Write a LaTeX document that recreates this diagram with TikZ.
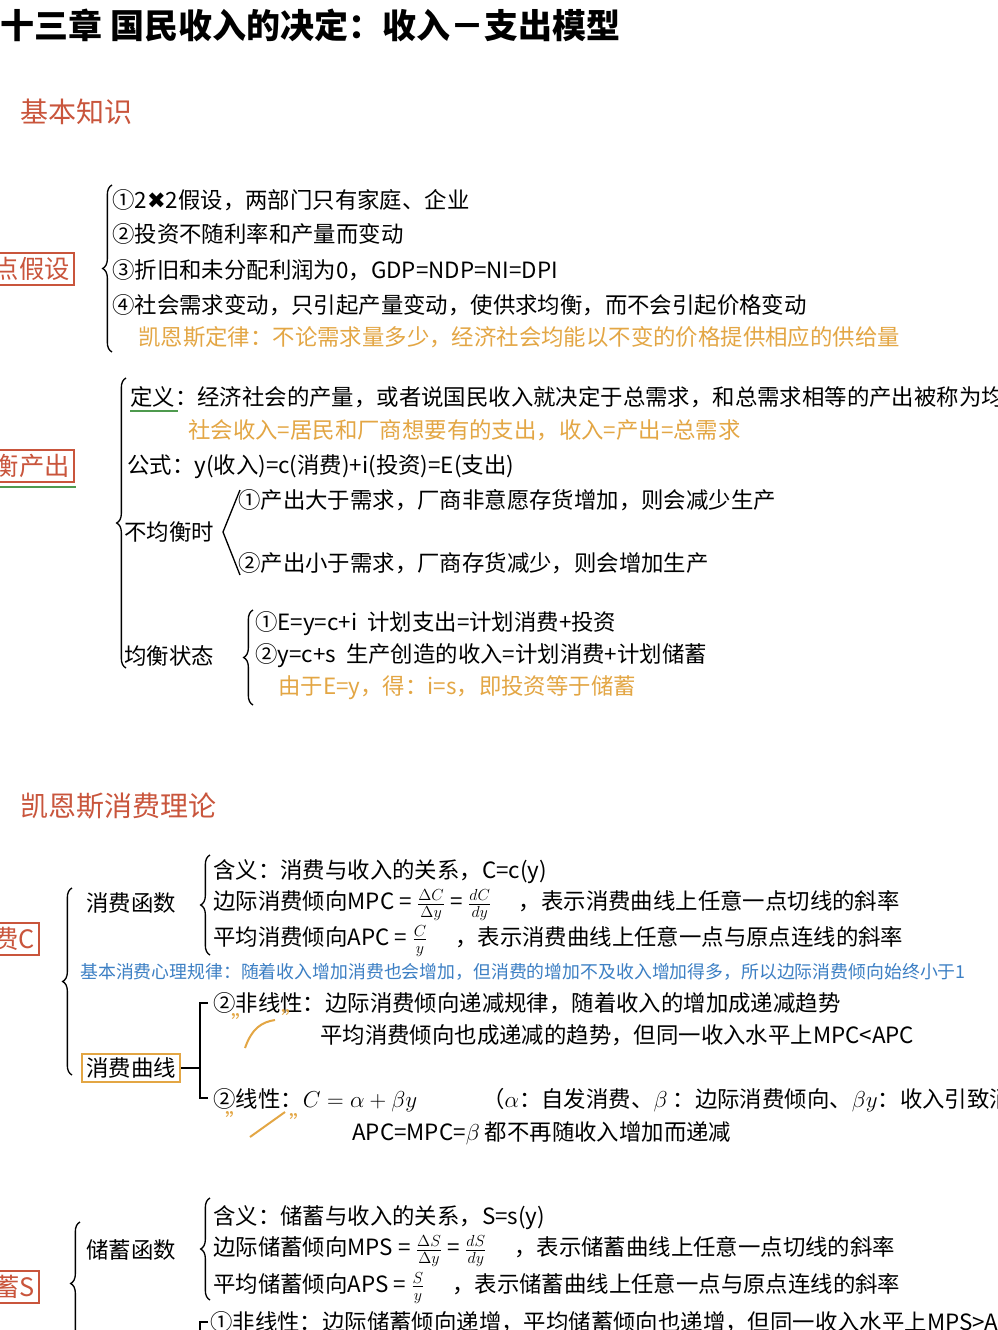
\documentclass[tikz,border=0pt]{standalone}
\usepackage{fontspec}
\setmainfont{Noto Sans CJK SC}
\newfontfamily\djv{DejaVu Sans}
\usetikzlibrary{decorations.pathreplacing}
\definecolor{hred}{HTML}{C9553C}
\definecolor{hyel}{HTML}{E3A644}
\definecolor{hblue}{HTML}{3C7FC4}
\definecolor{hgreen}{HTML}{4E9A4E}
\tikzset{
 t/.style={anchor=west,inner sep=0pt,font=\fontsize{16.8}{19}\selectfont},
 ty/.style={t,text=hyel},
 sec/.style={anchor=west,inner sep=0pt,text=hred,font=\fontsize{21}{23}\selectfont},
 rbox/.style={draw=hred,line width=1.6pt,text=hred,inner sep=3pt,font=\fontsize{19}{21}\selectfont},
 br/.style={decorate,decoration={brace,amplitude=7pt},line width=1pt},
 ink/.style={line width=1pt},
 qt/.style={text=hyel,inner sep=0pt,font=\fontsize{16}{18}\selectfont},
}
\begin{document}
\begin{tikzpicture}[x=0.75pt,y=-0.75pt]
\useasboundingbox (0,0) rectangle (997,1330);
\fill[white] (0,0) rectangle (997,1330);
\clip (0,0) rectangle (997,1330);
\node[anchor=west,inner sep=0pt,font=\fontsize{25.5}{28}\selectfont\bfseries] (title) at (0,25) {十三章 国民收入的决定：收入－支出模型};
% section 1
\node[sec] (s1) at (20,112) {基本知识};
\node[rbox,anchor=east] (b1) at (75,269) {点假设};
\draw[br] (112,352) -- (112,185);
\node[t] (a1) at (112,200) {①2{\djv ✖}2假设，两部门只有家庭、企业};
\node[t] (a2) at (112,234) {②投资不随利率和产量而变动};
\node[t] (a3) at (112,270) {③折旧和未分配利润为0，GDP=NDP=NI=DPI};
\node[t] (a4) at (112,305) {④社会需求变动，只引起产量变动，使供求均衡，而不会引起价格变动};
\node[ty] (a5) at (138,337) {凯恩斯定律：不论需求量多少，经济社会均能以不变的价格提供相应的供给量};
% equilibrium
\node[rbox,anchor=east] (b2) at (75,466) {衡产出};
\draw[hgreen,line width=2pt] (0,487) -- (76,487);
\draw[br] (126,668) -- (126,378);
\node[t] (d1) at (130,397) {定义：经济社会的产量，或者说国民收入就决定于总需求，和总需求相等的产出被称为均衡产出};
\draw[hgreen,line width=1.3pt] (130,411) -- (178,411);
\node[ty] (d2) at (188,430) {社会收入=居民和厂商想要有的支出，收入=产出=总需求};
\node[t] (d3) at (127,467) {公式：y(收入)=c(消费)+i(投资)=E(支出)};
\node[t] (d4) at (124,532) {不均衡时};
\draw[ink] (240,490) -- (223,532) -- (240,575);
\node[t] (d5) at (238,500) {①产出大于需求，厂商非意愿存货增加，则会减少生产};
\node[t] (d6) at (238,563) {②产出小于需求，厂商存货减少，则会增加生产};
\node[t] (d7) at (124,656) {均衡状态};
\draw[br] (253,705) -- (253,610);
\node[t] (e1) at (255,624) {①E=y=c+i\ \ 计划支出=计划消费+投资};
\node[t] (e2) at (255,656) {②y=c+s\ \ 生产创造的收入=计划消费+计划储蓄};
\node[ty] (e3) at (278,688) {由于E=y，得：i=s，即投资等于储蓄};
% section 2
\node[sec] (s2) at (20,806) {凯恩斯消费理论};
\node[rbox,anchor=east] (b3) at (40,939) {费C};
\draw[br] (72,1075) -- (72,888);
\node[t] (c1) at (86,903) {消费函数};
\draw[br] (210,955) -- (210,855);
\node[t] (c2) at (213,872) {含义：消费与收入的关系，C=c(y)};
\node[t] (c3) at (213,905) {边际消费倾向MPC = $\frac{\Delta C}{\Delta y}$ = $\frac{dC}{dy}$\quad\ ，表示消费曲线上任意一点切线的斜率};
\node[t] (c4) at (213,941) {平均消费倾向APC = $\frac{C}{y}$\quad\ ，表示消费曲线上任意一点与原点连线的斜率};
\node[anchor=west,inner sep=0pt,text=hblue,font=\fontsize{13.4}{15}\selectfont] (c5) at (80,972) {基本消费心理规律：随着收入增加消费也会增加，但消费的增加不及收入增加得多，所以边际消费倾向始终小于1};
\node[draw=hyel,line width=1.6pt,inner sep=3pt,font=\fontsize{16.8}{19}\selectfont] (c6) at (131,1068) {消费曲线};
\draw[ink] (c6.east) -- (200,1068);
\draw[ink] (208,1003) -- (200,1003) -- (200,1098) -- (208,1098);
\node[t] (f1) at (213,1003) {②非线性：边际消费倾向递减规律，随着收入的增加成递减趋势};
\node[t] (f2) at (320,1035) {平均消费倾向也成递减的趋势，但同一收入水平上MPC<APC};
\draw[hyel,line width=1.5pt] (245,1048) .. controls (252,1028) and (262,1022) .. (275,1020);
\node[qt] (q1) at (242,1022) {"};
\node[qt] (q2) at (292,1018) {"};
\node[t] (g1) at (213,1100) {②线性：$C=\alpha+\beta y$};
\node[t] (g2) at (482,1100) {（$\alpha$：自发消费、$\beta$ ：边际消费倾向、$\beta y$：收入引致消费）};
\draw[hyel,line width=1.5pt] (250,1137) -- (285,1112);
\node[qt] (q3) at (236,1120) {"};
\node[qt] (q4) at (300,1122) {"};
\node[t] (g3) at (352,1133) {APC=MPC=$\beta$ 都不再随收入增加而递减};
% saving
\node[rbox,anchor=east] (b4) at (40,1287) {蓄S};
\draw[br] (80,1345) -- (80,1222);
\node[t] (h1) at (86,1250) {储蓄函数};
\draw[br] (210,1300) -- (210,1198);
\node[t] (h2) at (213,1218) {含义：储蓄与收入的关系，S=s(y)};
\node[t] (h3) at (213,1251) {边际储蓄倾向MPS = $\frac{\Delta S}{\Delta y}$ = $\frac{dS}{dy}$\quad\ ，表示储蓄曲线上任意一点切线的斜率};
\node[t] (h4) at (213,1288) {平均储蓄倾向APS = $\frac{S}{y}$\quad\ ，表示储蓄曲线上任意一点与原点连线的斜率};
\draw[ink] (208,1322) -- (200,1322) -- (200,1335);
\node[t] (h5) at (210,1322) {①非线性：边际储蓄倾向递增，平均储蓄倾向也递增，但同一收入水平上MPS>APS};
\end{tikzpicture}
\end{document}
